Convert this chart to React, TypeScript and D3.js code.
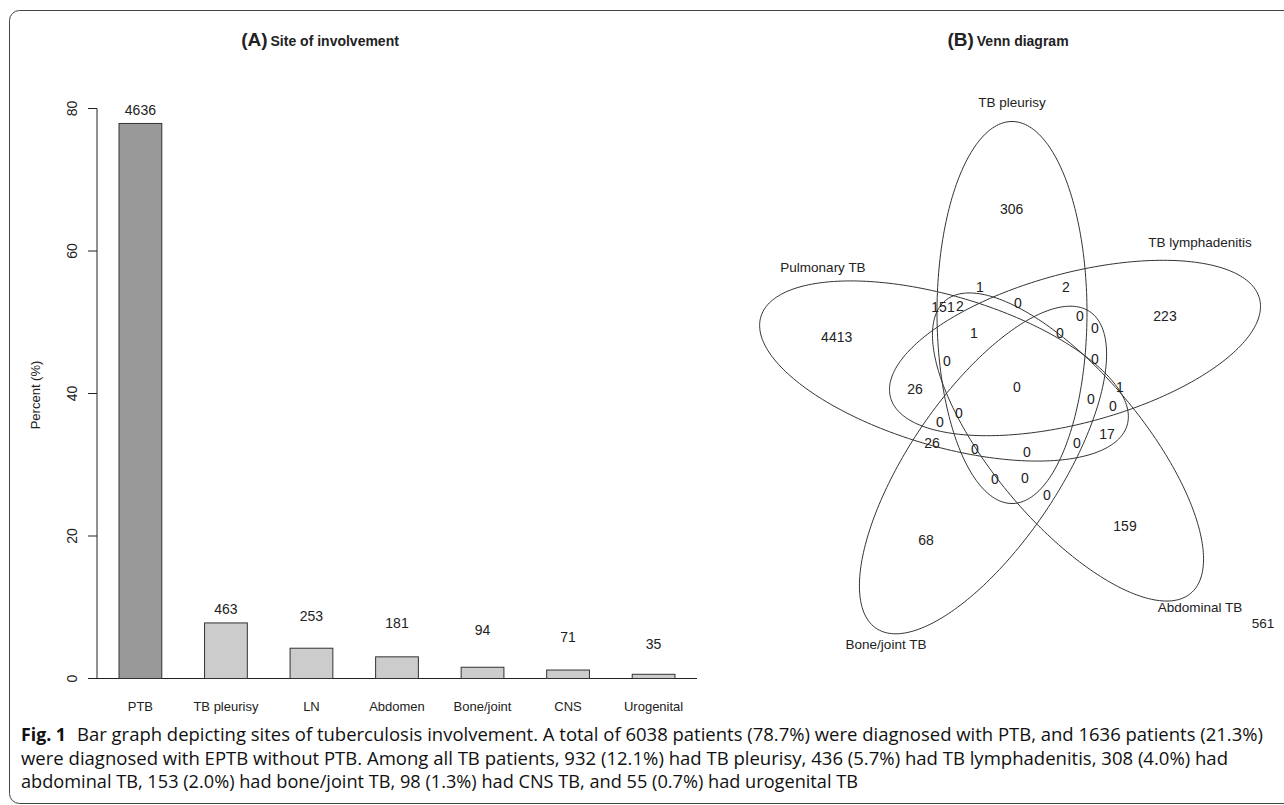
import React from 'react';
import * as d3 from 'd3';

// ---------- Panel A data ----------
const categories = ['PTB', 'TB pleurisy', 'LN', 'Abdomen', 'Bone/joint', 'CNS', 'Urogenital'];
const percents = [77.9, 7.8, 4.25, 3.04, 1.58, 1.19, 0.59];
const counts = [4636, 463, 253, 181, 94, 71, 35];
const countLabelAt = [80, 10, 9, 8, 7, 6, 5];
const yTicks = [0, 20, 40, 60, 80];

// ---------- Panel B data ----------
const vennSetNames = ['Pulmonary TB', 'TB pleurisy', 'TB lymphadenitis', 'Abdominal TB', 'Bone/joint TB'];
const vennRegionCounts = [
  4413, 306, 223, 159, 68,
  151, 2, 1, 2, 0, 0, 0, 1, 0, 0, 0, 26, 0, 1, 0, 0, 0, 0, 17, 26, 0, 0, 0, 0, 0, 0,
];
const vennOutside = 561;

// layout of the Venn (units: 1 = 100px, origin at the Venn centre, y up)
const vennEllipses = [
  { cx: -0.72, cy: 0.19, rot: 163.5 },
  { cx: -0.04, cy: 0.775, rot: 90 },
  { cx: 0.59, cy: 0.42, rot: 15 },
  { cx: 0.52, cy: -0.57, rot: 310 },
  { cx: -0.33, cy: -0.8, rot: 236 },
];
const vennSemiMajor = 1.91;
const vennSemiMinor = 0.75;
const vennSetLabelPos = [[-1.93, 1.23], [-0.04, 2.88], [1.84, 1.48], [1.84, -2.17], [-1.3, -2.54]];
const vennRegionPos = [
  [-1.793, 0.533], [-0.043, 1.807], [1.49, 0.74], [1.09, -1.36], [-0.9, -1.5],
  [-0.73, 0.83], [-0.56, 0.84], [-0.36, 1.03], [0.5, 1.03], [0.02, 0.87], [0.64, 0.74], [0.79, 0.62],
  [-0.42, 0.57], [0.44, 0.57], [-0.69, 0.29], [0.79, 0.31], [-1.01, 0.01], [0.01, 0.03], [1.04, 0.03],
  [0.75, -0.09], [0.97, -0.16], [-0.57, -0.23], [-0.76, -0.32], [0.91, -0.44], [-0.84, -0.53],
  [-0.41, -0.59], [0.11, -0.62], [0.61, -0.53], [-0.21, -0.89], [0.09, -0.88], [0.31, -1.05],
];
const vennOutsidePos = [2.47, -2.33];

const captionLines = [
  'Bar graph depicting sites of tuberculosis involvement. A total of 6038 patients (78.7%) were diagnosed with PTB, and 1636 patients (21.3%)',
  'were diagnosed with EPTB without PTB. Among all TB patients, 932 (12.1%) had TB pleurisy, 436 (5.7%) had TB lymphadenitis, 308 (4.0%) had',
  'abdominal TB, 153 (2.0%) had bone/joint TB, 98 (1.3%) had CNS TB, and 55 (0.7%) had urogenital TB',
];

const W = 1284;
const H = 805;
const chartFont = '"Liberation Sans", Arial, sans-serif';
const capFont = '"Open Sans", "Noto Sans", sans-serif';
const ink = '#222';

export default function App() {
  const x = d3.scaleBand<string>().domain(categories).range([76.25, 717.75]).paddingInner(0.5).paddingOuter(0.5);
  const y = d3.scaleLinear().domain([0, 80]).range([678.5, 108.5]);

  const O = { x: 1016, y: 390 };
  const vx = d3.scaleLinear().domain([-3, 3]).range([O.x - 300, O.x + 300]);
  const vy = d3.scaleLinear().domain([-3, 3]).range([O.y + 300, O.y - 300]);
  const line = d3.line().curve(d3.curveLinearClosed);
  const ellipsePath = (e: { cx: number; cy: number; rot: number }) => {
    const th = (e.rot * Math.PI) / 180;
    const pts = d3.range(0, 360, 1.5).map((deg) => {
      const t = (deg * Math.PI) / 180;
      const ex = e.cx + vennSemiMajor * Math.cos(t) * Math.cos(th) - vennSemiMinor * Math.sin(t) * Math.sin(th);
      const ey = e.cy + vennSemiMajor * Math.cos(t) * Math.sin(th) + vennSemiMinor * Math.sin(t) * Math.cos(th);
      return [vx(ex), vy(ey)] as [number, number];
    });
    return line(pts) || '';
  };

  const capWidths = [1242, 1207, 837];

  return (
    <svg width={W} height={H} style={{ position: 'absolute', left: 0, top: 0, background: '#fff' }}>
      <rect x={9.5} y={10.5} width={1300} height={793} rx={10} ry={10} fill="none" stroke="#444" strokeWidth={1} />

      {/* Panel A */}
      <text x={320} y={46} textAnchor="middle" fontFamily={chartFont} fill={ink} fontWeight="bold">
        <tspan fontSize={19}>(A)</tspan>
        <tspan fontSize={14} dx={3}>Site of involvement</tspan>
      </text>
      <line x1={97} x2={97} y1={y(80)} y2={y(0)} stroke={ink} />
      {yTicks.map((t) => (
        <g key={t}>
          <line x1={88} x2={97} y1={y(t)} y2={y(t)} stroke={ink} />
          <text
            transform={`translate(${72},${y(t)}) rotate(-90)`}
            textAnchor="middle"
            dy="0.35em"
            fontFamily={chartFont}
            fontSize={14}
            fill={ink}
          >
            {t}
          </text>
        </g>
      ))}
      <text transform={`translate(35,395) rotate(-90)`} textAnchor="middle" dy="0.35em" fontFamily={chartFont} fontSize={13} fill={ink}>
        Percent (%)
      </text>
      <line x1={97} x2={697} y1={y(0)} y2={y(0)} stroke={ink} />
      {categories.map((c, i) => (
        <g key={c}>
          <rect
            x={x(c)}
            y={y(percents[i])}
            width={x.bandwidth()}
            height={y(0) - y(percents[i])}
            fill={i === 0 ? '#999999' : '#cccccc'}
            stroke="#333"
            strokeWidth={1}
          />
          <text x={(x(c) || 0) + x.bandwidth() / 2} y={y(countLabelAt[i])} dy="0.45em" textAnchor="middle" fontFamily={chartFont} fontSize={14} fill={ink}>
            {counts[i]}
          </text>
          <text x={(x(c) || 0) + x.bandwidth() / 2} y={711} textAnchor="middle" fontFamily={chartFont} fontSize={13} fill={ink}>
            {c}
          </text>
        </g>
      ))}

      {/* Panel B */}
      <text x={1008} y={46} textAnchor="middle" fontFamily={chartFont} fill={ink} fontWeight="bold">
        <tspan fontSize={19}>(B)</tspan>
        <tspan fontSize={14} dx={3}>Venn diagram</tspan>
      </text>
      {vennEllipses.map((e, i) => (
        <path key={i} d={ellipsePath(e)} fill="none" stroke="#333" strokeWidth={1} />
      ))}
      {vennSetNames.map((n, i) => (
        <text key={n} x={vx(vennSetLabelPos[i][0])} y={vy(vennSetLabelPos[i][1])} dy="0.35em" textAnchor="middle" fontFamily={chartFont} fontSize={13.5} fill={ink}>
          {n}
        </text>
      ))}
      {vennRegionCounts.map((v, i) => (
        <text key={i} x={vx(vennRegionPos[i][0])} y={vy(vennRegionPos[i][1])} dy="0.35em" textAnchor="middle" fontFamily={chartFont} fontSize={14} fill={ink}>
          {v}
        </text>
      ))}
      <text x={vx(vennOutsidePos[0])} y={vy(vennOutsidePos[1])} dy="0.35em" textAnchor="middle" fontFamily={chartFont} fontSize={13.5} fill={ink}>
        {vennOutside}
      </text>

      {/* Caption */}
      <text x={21} y={741} fontFamily={capFont} fontSize={17.5} fontWeight="bold" fill="#111" textLength={45} lengthAdjust="spacingAndGlyphs">
        Fig. 1
      </text>
      <text x={77} y={741} fontFamily={capFont} fontSize={17.5} fill="#111" textLength={capWidths[0] - 56} lengthAdjust="spacingAndGlyphs">
        {captionLines[0]}
      </text>
      <text x={21} y={765} fontFamily={capFont} fontSize={17.5} fill="#111" textLength={capWidths[1]} lengthAdjust="spacingAndGlyphs">
        {captionLines[1]}
      </text>
      <text x={21} y={788} fontFamily={capFont} fontSize={17.5} fill="#111" textLength={capWidths[2]} lengthAdjust="spacingAndGlyphs">
        {captionLines[2]}
      </text>
    </svg>
  );
}
